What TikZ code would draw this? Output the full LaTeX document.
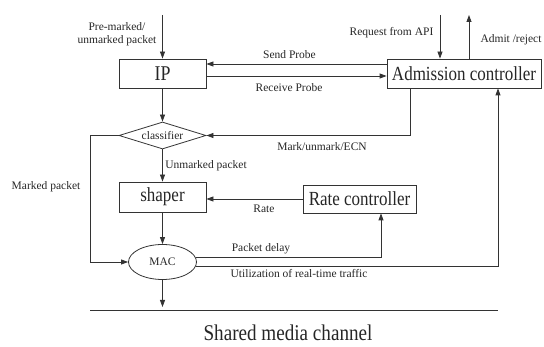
\documentclass[tikz,border=0pt]{standalone}
\usepackage{fontspec}
\setmainfont{Liberation Serif}
\newfontfamily\bigfam{Liberation Serif}[FakeStretch=0.85]
\usetikzlibrary{arrows.meta,shapes.geometric,calc}
\begin{document}
\begin{tikzpicture}[x=1pt,y=-1pt,
  every node/.style={text=black!85},
  ln/.style={draw=black!80,line width=0.8pt},
  arr/.style={ln,-{Triangle[length=7pt,width=5pt]}},
  box/.style={ln,rectangle,inner sep=0pt,font=\bigfam\fontsize{20}{22}\selectfont},
  lbl/.style={inner sep=0pt,font=\fontsize{11.5}{13}\selectfont},
  small/.style={font=\fontsize{11.5}{13}\selectfont}]
\useasboundingbox (0,0) rectangle (544,347);
% nodes
\node[box,minimum width=87pt,minimum height=29pt,font=\bigfam\fontsize{21}{22}\selectfont] (IP) at (162.5,73.5) {IP};
\node[box,minimum width=154pt,minimum height=29pt] (AC) at (464,73.5) {Admission controller};
\node[ln,diamond,aspect=3.2,inner sep=0pt,minimum width=87pt,minimum height=27pt,small] (cls) at (162.5,135.5) {classifier};
\node[box,minimum width=87pt,minimum height=30pt] (sh) at (162.5,197) {shaper};
\node[box,minimum width=113pt,minimum height=28pt] (RC) at (359.5,199) {Rate controller};
\node[ln,ellipse,inner sep=0pt,minimum width=68pt,minimum height=35pt,small] (MAC) at (162.5,262) {MAC};
% coordinates
\coordinate (in) at (162.5,15);
\coordinate (req) at (440,15);
\coordinate (adm) at (469,15);
\coordinate (mk) at (410,135.5);
\coordinate (ml) at (90,135.5);
\coordinate (pd) at (381,0);
\coordinate (ut) at (498,0);
\coordinate (out) at (162.5,307);
\coordinate (chL) at (90,310);
\coordinate (chR) at (498,310);
% connectors
\draw[arr] (in) -- (IP.north);
\draw[arr] (IP.south) -- (cls.north);
\draw[arr] ($(AC.west)+(0,-9.5)$) -- ($(IP.east)+(0,-9.5)$);
\draw[arr] ($(IP.east)+(0,2.5)$) -- ($(AC.west)+(0,2.5)$);
\draw[arr] (req) -- (req |- AC.north);
\draw[arr] (adm |- AC.north) -- (adm);
\draw[arr] (mk |- AC.south) -- (mk) -- (cls.east);
\draw[arr] (cls.west) -- (ml) |- (MAC.west);
\draw[arr] (cls.south) -- (sh.north);
\draw[arr] (RC.west) -- (RC.west -| sh.east);
\draw[arr] (sh.south) -- (MAC.north);
\draw[arr] (MAC.8) -| (pd |- RC.south);
\draw[arr] (MAC.-8) -| (ut |- AC.south);
\draw[arr] (MAC.south) -- (out);
\draw[ln] (chL) -- (chR);
% labels
\node[lbl,align=center] (lin) at (117,34.5) {Pre-marked/\\unmarked packet};
\node[lbl] (lsp) at (289.5,55) {Send Probe};
\node[lbl] (lrp) at (289,88) {Receive Probe};
\node[lbl] (lreq) at (391.5,33) {Request from API};
\node[lbl] (ladm) at (511,40) {Admit /reject};
\node[lbl] (lmk) at (322,147) {Mark/unmark/ECN};
\node[lbl] (lum) at (206,166) {Unmarked packet};
\node[lbl] (lmp) at (46,186.5) {Marked packet};
\node[lbl] (lrt) at (264,209) {Rate};
\node[lbl] (lpd) at (261,249) {Packet delay};
\node[lbl] (lut) at (299,274) {Utilization of real-time traffic};
\node[inner sep=0pt,font=\bigfam\fontsize{22.5}{24}\selectfont] (lch) at (288,333) {Shared media channel};
\end{tikzpicture}
\end{document}
